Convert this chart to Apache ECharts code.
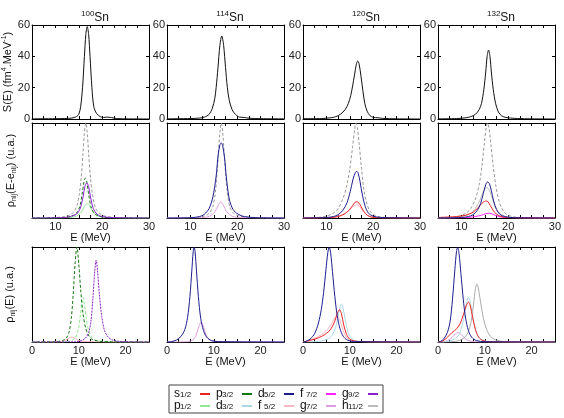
<!DOCTYPE html>
<html>
<head>
<meta charset="utf-8">
<script src="https://cdn.jsdelivr.net/npm/echarts@6/dist/echarts.min.js"></script>
<style>html,body{margin:0;background:#fff}#c{width:564px;height:418px}</style>
</head>
<body>
<div id="c"></div>
<script>
// isotopes, tick labels
var isotopes = ['100', '114', '120', '132'];
var sTicks = [0, 20, 40, 60];
var eTicksMid = [10, 20, 30];
var eTicksLow = [0, 10, 20];
var legendRow1 = ['s1/2', 'p3/2', 'd5/2', 'f7/2', 'g9/2'];
var legendRow2 = ['p1/2', 'd3/2', 'f5/2', 'g7/2', 'h11/2'];

// row 1 : S(E), fm^4.MeV^-1
var s100 = [[5,0.1],[10,0.2],[12,0.3],[13.5,0.6],[14.5,1.5],[15,3],[15.4,8],[15.8,20],[16.2,40],[16.5,54],[16.8,59],[17.1,54],[17.4,40],[17.8,20],[18.2,8],[18.8,3.5],[19.6,1.5],[20.3,1],[21,1.2],[22,0.9],[23,0.3],[25,0.1],[30,0]];
var s114 = [[5,0.1],[10,0.3],[12,0.6],[13,1.2],[14,3],[14.7,7],[15.2,13],[15.5,20],[15.9,33],[16.3,47],[16.7,53],[17.1,47],[17.5,33],[17.9,20],[18.3,12],[18.9,6],[19.6,3],[20.5,1.2],[21.5,1],[22.5,0.5],[25,0.2],[30,0.1]];
var s120 = [[5,0.2],[9,0.3],[11,0.8],[12,1.5],[13,3],[14,6],[14.7,10],[15.2,15],[15.6,21],[16,28],[16.4,35],[16.7,37],[17,35],[17.4,27],[17.8,18],[18.2,10],[18.7,5],[19.3,2.2],[20,1],[21,0.8],[22,0.4],[25,0.1],[30,0]];
var s132 = [[5,0.1],[9,0.3],[11,0.8],[12,1.5],[13,3],[13.8,6],[14.3,10],[14.8,19],[15.2,30],[15.5,40],[15.8,44],[16.1,40],[16.4,30],[16.8,19],[17.3,10],[17.9,4.5],[18.6,2],[19.5,1],[20.5,0.6],[22,0.3],[25,0.1],[30,0]];

// row 2 : rho_nlj(E-e_nlj), u.a.
var m100tot = [[5,0],[10,0.005],[12,0.015],[13,0.03],[14,0.07],[14.6,0.13],[15.1,0.25],[15.5,0.42],[15.9,0.68],[16.2,0.9],[16.5,1],[16.8,0.9],[17.1,0.68],[17.5,0.42],[17.9,0.25],[18.4,0.13],[19,0.07],[20,0.03],[21,0.015],[23,0.005],[30,0]];
var m100p3 = [[5,0],[12,0.005],[13.5,0.02],[14.5,0.05],[15.2,0.12],[15.7,0.25],[16.1,0.38],[16.4,0.42],[16.7,0.38],[17.1,0.25],[17.6,0.12],[18.3,0.05],[19.3,0.02],[21,0.005],[30,0]];
var m100g9 = [[5,0],[12,0.005],[13.5,0.02],[14.5,0.04],[15.3,0.1],[15.9,0.22],[16.3,0.33],[16.7,0.37],[17.1,0.33],[17.5,0.22],[18.1,0.1],[18.9,0.04],[20,0.015],[22,0.005],[30,0]];
var m100p1 = [[5,0],[13,0.005],[14.5,0.02],[15.5,0.06],[16.2,0.12],[16.8,0.15],[17.4,0.12],[18.1,0.06],[19.1,0.02],[21,0.005],[30,0]];
var m114tot = [[5,0],[11,0.005],[13,0.02],[14,0.05],[14.8,0.12],[15.4,0.3],[15.9,0.62],[16.3,0.9],[16.6,1],[16.9,0.9],[17.3,0.62],[17.8,0.3],[18.4,0.12],[19.2,0.05],[20.5,0.02],[23,0.005],[30,0]];
var m114d5 = [[5,0],[10,0.003],[12,0.015],[13,0.04],[14,0.1],[14.8,0.22],[15.5,0.44],[15.9,0.65],[16.3,0.77],[16.6,0.79],[16.9,0.76],[17.3,0.63],[17.7,0.42],[18.3,0.2],[19.1,0.09],[20.2,0.04],[21.5,0.015],[24,0.004],[30,0]];
var m114g7 = [[5,0],[12,0.003],[13.5,0.01],[14.5,0.03],[15.3,0.07],[15.9,0.13],[16.5,0.17],[17.1,0.13],[17.7,0.07],[18.5,0.03],[19.5,0.01],[22,0.003],[30,0]];
var m120tot = [[5,0],[8,0.005],[10,0.02],[11.5,0.05],[12.5,0.1],[13.5,0.2],[14.3,0.33],[15,0.52],[15.6,0.75],[16,0.92],[16.3,1],[16.6,0.95],[17,0.78],[17.5,0.52],[18,0.3],[18.7,0.14],[19.5,0.06],[20.5,0.025],[22,0.008],[25,0.002],[30,0]];
var m120d5 = [[5,0],[10,0.005],[11.5,0.015],[12.5,0.035],[13.5,0.08],[14.4,0.16],[15.1,0.28],[15.7,0.41],[16.2,0.48],[16.5,0.49],[16.8,0.47],[17.2,0.38],[17.7,0.24],[18.3,0.12],[19,0.05],[20,0.02],[21.5,0.006],[30,0]];
var m120s1 = [[5,0],[11,0.005],[12.5,0.015],[13.8,0.04],[14.8,0.08],[15.6,0.13],[16.1,0.165],[16.5,0.17],[16.9,0.16],[17.4,0.12],[18,0.07],[18.7,0.03],[19.6,0.01],[21,0.003],[30,0]];
var m120f5 = [[5,0],[11,0.006],[12.5,0.02],[13.8,0.045],[14.8,0.08],[15.6,0.115],[16.1,0.135],[16.5,0.14],[16.9,0.13],[17.4,0.1],[18,0.06],[18.7,0.03],[19.6,0.012],[21,0.004],[30,0]];
var m132tot = [[5,0],[8,0.005],[9.5,0.02],[11,0.05],[12,0.1],[13,0.2],[13.8,0.35],[14.4,0.55],[14.9,0.78],[15.3,0.95],[15.6,1],[15.9,0.95],[16.3,0.78],[16.8,0.55],[17.4,0.33],[18.1,0.17],[19,0.07],[20,0.03],[21.5,0.01],[25,0.002],[30,0]];
var m132h11 = [[5,0],[9,0.005],[10.5,0.02],[12,0.05],[13,0.1],[13.9,0.18],[14.6,0.27],[15.1,0.31],[15.5,0.32],[15.9,0.3],[16.4,0.24],[17,0.15],[17.7,0.08],[18.6,0.035],[19.8,0.012],[22,0.003],[30,0]];
var m132d5 = [[5,0],[10,0.005],[11.5,0.015],[12.5,0.035],[13.4,0.08],[14.1,0.15],[14.7,0.26],[15.2,0.35],[15.6,0.38],[16,0.36],[16.4,0.29],[16.9,0.18],[17.5,0.09],[18.2,0.04],[19.2,0.015],[21,0.004],[30,0]];
var m132s1 = [[5,0.005],[7,0.01],[9,0.015],[11,0.03],[12.5,0.06],[13.6,0.11],[14.4,0.155],[15,0.175],[15.3,0.18],[15.7,0.17],[16.2,0.13],[16.8,0.08],[17.5,0.04],[18.5,0.015],[20,0.005],[30,0]];
var m132f7 = [[5,0],[11,0.005],[13,0.015],[14.3,0.03],[15.2,0.045],[15.8,0.05],[16.4,0.045],[17.2,0.03],[18.3,0.012],[20,0.004],[30,0]];

// row 3 : rho_nlj(E), u.a.
var b100p3 = [[0,0],[5,0.003],[6.5,0.015],[7.3,0.04],[7.9,0.1],[8.4,0.25],[8.8,0.5],[9.2,0.82],[9.6,1],[10,0.82],[10.4,0.55],[10.9,0.3],[11.5,0.14],[12.2,0.06],[13,0.025],[14.5,0.008],[17,0.002],[25,0]];
var b100p1 = [[0,0],[7,0.002],[8.5,0.015],[9.3,0.05],[9.9,0.13],[10.3,0.26],[10.6,0.4],[10.9,0.47],[11.2,0.4],[11.6,0.25],[12.1,0.12],[12.8,0.05],[13.8,0.015],[16,0.003],[25,0]];
var b100g9 = [[0,0],[9,0.002],[10.5,0.012],[11.4,0.04],[12.1,0.1],[12.6,0.22],[13,0.45],[13.4,0.74],[13.7,0.86],[14,0.75],[14.4,0.5],[14.9,0.27],[15.5,0.12],[16.3,0.05],[17.3,0.02],[19,0.005],[25,0]];
var b100f5 = [[0,0],[6,0.003],[7.2,0.02],[8,0.045],[8.5,0.05],[9,0.045],[9.8,0.02],[11,0.005],[25,0]];
var b114d5 = [[0,0],[1,0.005],[2,0.02],[3,0.06],[3.8,0.13],[4.4,0.26],[4.9,0.48],[5.3,0.75],[5.6,0.95],[5.8,1],[6,0.95],[6.3,0.75],[6.7,0.48],[7.2,0.25],[7.8,0.12],[8.5,0.05],[9.5,0.015],[11,0.004],[25,0]];
var b114g7 = [[0,0],[4.5,0.003],[5.5,0.02],[6.2,0.07],[6.8,0.16],[7.3,0.21],[7.8,0.16],[8.4,0.07],[9.2,0.02],[10.5,0.004],[25,0]];
var b120d5 = [[0,0],[0.5,0.005],[1.5,0.03],[2.5,0.09],[3.3,0.2],[3.9,0.34],[4.4,0.52],[4.9,0.76],[5.3,0.94],[5.6,1],[5.9,0.94],[6.3,0.74],[6.8,0.48],[7.3,0.28],[7.9,0.14],[8.6,0.06],[9.5,0.02],[11,0.005],[25,0]];
var b120s1 = [[0,0],[1,0.01],[2.5,0.03],[4,0.06],[5,0.09],[6,0.14],[6.8,0.22],[7.4,0.31],[7.8,0.34],[8.2,0.3],[8.7,0.18],[9.3,0.08],[10,0.03],[11,0.01],[13,0.002],[25,0]];
var b120d3 = [[0,0],[3,0.005],[5,0.025],[6.2,0.07],[7,0.16],[7.6,0.3],[8,0.38],[8.2,0.4],[8.5,0.37],[9,0.24],[9.6,0.11],[10.3,0.04],[11.3,0.012],[13,0.003],[25,0]];
var b120f5 = [[0,0],[1,0.015],[2.5,0.04],[4,0.08],[5.2,0.13],[6.2,0.2],[6.8,0.26],[7.2,0.28],[7.6,0.26],[8.2,0.18],[8.9,0.08],[9.7,0.03],[10.7,0.008],[25,0]];
var b132d5 = [[0,0],[0.5,0.005],[1.2,0.03],[2,0.1],[2.6,0.22],[3.1,0.45],[3.6,0.76],[3.95,0.95],[4.2,1],[4.5,0.93],[4.9,0.72],[5.4,0.45],[5.9,0.25],[6.5,0.12],[7.2,0.05],[8.2,0.015],[10,0.003],[25,0]];
var b132s1 = [[0,0],[1,0.01],[2,0.05],[3,0.1],[4,0.14],[4.8,0.2],[5.5,0.3],[6.1,0.39],[6.5,0.42],[6.9,0.38],[7.4,0.26],[8,0.13],[8.7,0.05],[9.6,0.015],[11,0.003],[25,0]];
var b132d3 = [[0,0],[2,0.005],[3.5,0.03],[4.5,0.08],[5.3,0.2],[5.9,0.36],[6.3,0.45],[6.5,0.47],[6.8,0.44],[7.3,0.3],[7.9,0.15],[8.6,0.06],[9.6,0.02],[11,0.004],[25,0]];
var b132h11 = [[0,0],[3,0.003],[4.5,0.015],[5.5,0.04],[6.4,0.1],[7.1,0.22],[7.6,0.4],[8,0.56],[8.3,0.61],[8.6,0.57],[9.1,0.42],[9.7,0.25],[10.4,0.13],[11.2,0.06],[12.2,0.025],[14,0.006],[25,0]];
var b132g7 = [[0,0],[1.5,0.005],[2.6,0.03],[3.4,0.07],[4,0.095],[4.3,0.1],[4.7,0.09],[5.3,0.06],[6.1,0.025],[7,0.008],[8.5,0.002],[25,0]];

var FONT = 'Liberation Sans, Arial, sans-serif';
var colors = {
  's1/2': '#ee2222', 'p3/2': '#137813', 'd5/2': '#1d1d8e', 'f7/2': '#ff22ff', 'g9/2': '#8a22cc',
  'p1/2': '#92e892', 'd3/2': '#acd8e6', 'f5/2': '#f6b6c4', 'g7/2': '#e09ce0', 'h11/2': '#aaaaaa',
  'total': '#999999', 'S': '#111111'
};

// curves per panel: [name, data, dash]
var panels = [
  [[['S', s100]], [['S', s114]], [['S', s120]], [['S', s132]]],
  [
    [['total', m100tot, [3, 2]], ['p1/2', m100p1], ['p3/2', m100p3, [3, 2]], ['g9/2', m100g9]],
    [['total', m114tot, [3, 2]], ['g7/2', m114g7], ['d5/2', m114d5]],
    [['total', m120tot, [3, 2]], ['f5/2', m120f5], ['s1/2', m120s1], ['d5/2', m120d5]],
    [['total', m132tot, [3, 2]], ['f7/2', m132f7], ['h11/2', m132h11], ['s1/2', m132s1], ['d5/2', m132d5]]
  ],
  [
    [['f5/2', b100f5], ['p1/2', b100p1, [3, 2]], ['p3/2', b100p3, [3, 2]], ['g9/2', b100g9, [2, 1]]],
    [['g7/2', b114g7], ['d5/2', b114d5]],
    [['f5/2', b120f5], ['d3/2', b120d3], ['s1/2', b120s1], ['d5/2', b120d5]],
    [['g7/2', b132g7], ['h11/2', b132h11], ['d3/2', b132d3], ['s1/2', b132s1], ['d5/2', b132d5]]
  ]
];

var colLeft = [32, 167, 303, 438];
var rowTop = [25, 123, 247];
var rowH = [94, 95, 95];
var yNames = [
  '{a|S(E) (fm}{p|4}{a|.MeV}{p|-1}{a|)}',
  '{a|\u03c1}{b|nlj}{a|(E-e}{b|nlj}{a|) (u.a.)}',
  '{a|\u03c1}{b|nlj}{a|(E) (u.a.)}'
];
var yNameGap = [17, 14, 15];
var nameRich = {
  a: { fontSize: 11, lineHeight: 14, fontFamily: FONT, color: '#111' },
  p: { fontSize: 7, lineHeight: 7, verticalAlign: 'top', fontFamily: FONT, color: '#111' },
  b: { fontSize: 7, lineHeight: 7, verticalAlign: 'bottom', fontFamily: FONT, color: '#111' }
};

var grids = [], xAxes = [], yAxes = [], series = [];
for (var r = 0; r < 3; r++) {
  for (var c = 0; c < 4; c++) {
    var g = r * 4 + c;
    grids.push({ left: colLeft[c], top: rowTop[r], width: 117, height: rowH[r] });
    var xmin = r === 2 ? 0 : 5, xmax = r === 2 ? 25 : 30;
    var tickList = r === 2 ? eTicksLow : eTicksMid;
    ['bottom', 'top'].forEach(function (pos) {
      xAxes.push({
        gridIndex: g, type: 'value', position: pos, min: xmin, max: xmax, interval: 2.5,
        axisLine: { onZero: false, lineStyle: { color: '#000', width: 1 } },
        axisTick: { inside: true, length: 3, lineStyle: { color: '#000' } },
        splitLine: { show: false },
        axisLabel: {
          show: pos === 'bottom' && r > 0, margin: 3, fontSize: 11, color: '#222', fontFamily: FONT,
          formatter: (function (tl) { return function (v) { return tl.indexOf(v) >= 0 ? String(v) : ''; }; })(tickList)
        },
        name: pos === 'bottom' && r > 0 ? 'E (MeV)' : '',
        nameLocation: 'middle', nameGap: 14,
        nameTextStyle: { fontSize: 11, color: '#111', fontFamily: FONT }
      });
    });
    var ymax = r === 0 ? sTicks[sTicks.length - 1] : 1;
    ['left', 'right'].forEach(function (pos) {
      yAxes.push({
        gridIndex: g, type: 'value', position: pos, min: 0, max: ymax,
        interval: r === 0 ? sTicks[1] - sTicks[0] : 1,
        axisLine: { onZero: false, lineStyle: { color: '#000', width: 1 } },
        axisTick: { show: r === 0, inside: true, length: 3, lineStyle: { color: '#000' } },
        splitLine: { show: false },
        axisLabel: { show: pos === 'left' && r === 0, margin: 2, fontSize: 11, color: '#222', fontFamily: FONT },
        name: pos === 'left' && c === 0 ? yNames[r] : '',
        nameLocation: 'middle', nameRotate: 90, nameGap: yNameGap[r],
        nameTextStyle: { rich: nameRich }
      });
    });
    panels[r][c].forEach(function (cv) {
      var nm = cv[0];
      var clr = colors[nm];
      if (nm === 'h11/2' && r === 1) clr = '#bbbbbb';
      series.push({
        type: 'line', name: nm, data: cv[1],
        xAxisIndex: 2 * g, yAxisIndex: 2 * g,
        symbol: 'none', smooth: 0.3, silent: true,
        lineStyle: { color: clr, width: 1, type: cv[2] || 'solid' },
        itemStyle: { color: clr }
      });
    });
  }
}

var titles = isotopes.map(function (iso, c) {
  return {
    text: '{p|' + iso + '}{m|Sn}', left: colLeft[c] + 58, top: 5, textAlign: 'center',
    textStyle: {
      fontWeight: 'normal',
      rich: {
        p: { fontSize: 8, lineHeight: 8, verticalAlign: 'top', fontFamily: FONT, color: '#111' },
        m: { fontSize: 12, lineHeight: 16, fontFamily: FONT, color: '#111' }
      }
    }
  };
});

function legendFmt(name) {
  return '{n|' + name.charAt(0) + '}{s|' + name.slice(1) + '}';
}
var legendRich = {
  n: { fontSize: 12, lineHeight: 10, width: 6, align: 'left', fontFamily: FONT, color: '#111' },
  s: { fontSize: 8, lineHeight: 5, width: 15, align: 'left', verticalAlign: 'bottom', fontFamily: FONT, color: '#111' }
};
function mkLegend(data, top) {
  return {
    data: data, left: 174, top: top, orient: 'horizontal', align: 'right',
    icon: 'rect', itemWidth: 10, itemHeight: 2, itemGap: 6, selectedMode: false, z: 10,
    padding: 0, formatter: legendFmt, textStyle: { rich: legendRich }
  };
}

var option = {
  animation: false,
  backgroundColor: '#fff',
  title: titles,
  grid: grids,
  xAxis: xAxes,
  yAxis: yAxes,
  legend: [mkLegend(legendRow1, 388), mkLegend(legendRow2, 400)],
  graphic: [{
    type: 'rect', z: 1, silent: true,
    shape: { x: 169, y: 385, width: 214, height: 28 },
    style: { fill: '#fff', stroke: '#444', lineWidth: 1 }
  }],
  series: series
};

var chart = echarts.init(document.getElementById('c'));
chart.setOption(option);
</script>
</body>
</html>
